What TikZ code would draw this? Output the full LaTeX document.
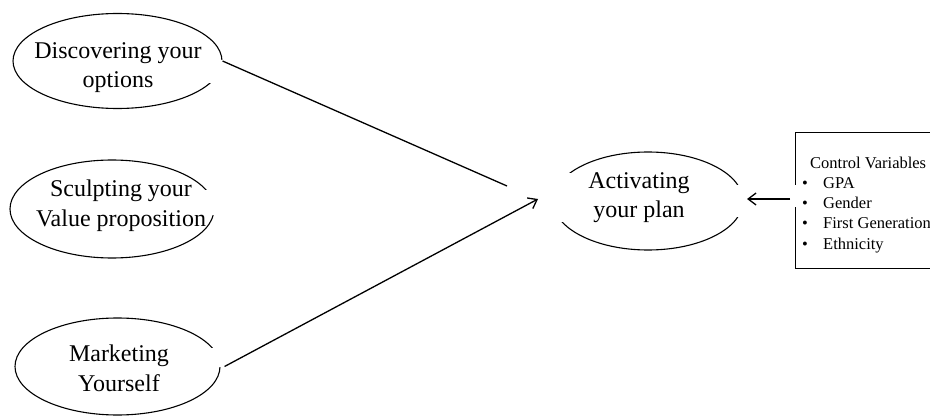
\documentclass[tikz,border=0pt]{standalone}
\usepackage{fontspec}
\setmainfont{Liberation Serif}
\usetikzlibrary{arrows.meta,shapes.geometric}
\begin{document}
\begin{tikzpicture}[x=1pt,y=-1pt,
  oval/.style={draw, ellipse, line width=1.1pt, inner sep=0pt},
  lbl/.style={font=\fontsize{24}{29.5}\selectfont, align=center, inner sep=0pt, anchor=north},
  small/.style={font=\fontsize{16.5}{20}\selectfont, inner sep=0pt, anchor=base west},
  mask/.style={fill=white, draw=none},
  conn/.style={line width=1.3pt},
  tip/.style={-{Straight Barb[length=8pt,width=12pt]}}
]
\useasboundingbox (0,0) rectangle (930,417);

% ovals
\node[oval, minimum width=209pt, minimum height=95pt] (d) at (117.5,61) {};
\node[oval, minimum width=204pt, minimum height=98pt] (s) at (112,209) {};
\node[oval, minimum width=205pt, minimum height=97pt] (m) at (117.5,366.5) {};
\node[oval, minimum width=190pt, minimum height=98pt] (a) at (648,201) {};

% control box
\node[draw, line width=1.1pt, anchor=north west, minimum width=150pt,
      minimum height=136pt, inner sep=0pt] (ctrl) at (795,132) {};

% white text-box masks
\fill[mask] (206,60) rectangle (226,83);
\fill[mask] (200,190) rectangle (218,215);
\fill[mask] (206,348) rectangle (224,367);
\fill[mask] (547,173) rectangle (573,222);
\fill[mask] (729,185) rectangle (748,217);
\fill[mask] (788,185) rectangle (802,207);

% texts
\node[lbl] (dt) at (118,42) {Discovering your\\options};
\node[lbl] (st) at (121,180) {Sculpting your\\Value proposition};
\node[lbl] (mt) at (119,345) {Marketing\\Yourself};
\node[lbl] (at) at (639,172) {Activating\\your plan};

\node[small] (cv) at (810,169) {Control Variables};
\node[small] (b1) at (802,189) {\textbullet};
\node[small] (b2) at (802,209) {\textbullet};
\node[small] (b3) at (802,229) {\textbullet};
\node[small] (b4) at (802,249) {\textbullet};
\node[small] (t1) at (823,189) {GPA};
\node[small] (t2) at (823,209) {Gender};
\node[small] (t3) at (823,229) {First Generation};
\node[small] (t4) at (823,249) {Ethnicity};

% connectors
\coordinate (e1) at (507,186);
\coordinate (e2) at (538,199);
\coordinate (e3) at (747,199);
\draw[conn] (d.east) -- (e1);
\draw[conn,tip] ([xshift=4pt]m.east) -- (e2);
\draw[conn,tip] ([xshift=-5pt]ctrl.west |- e3) -- (e3);
\end{tikzpicture}
\end{document}
